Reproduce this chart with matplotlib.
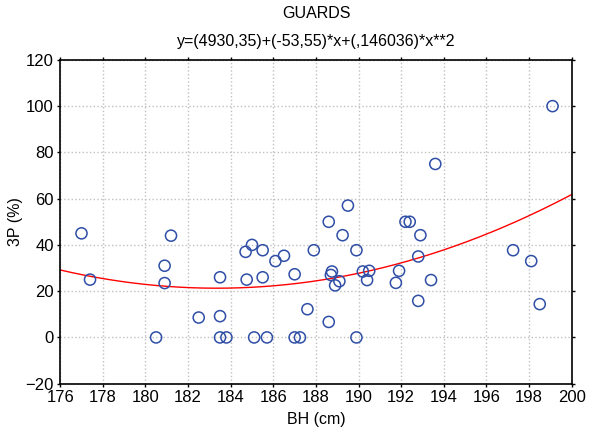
import numpy as np
import matplotlib
matplotlib.use("Agg")
import matplotlib.pyplot as plt

plt.rcParams['font.family'] = ['Liberation Sans', 'DejaVu Sans']

# player data: body height (cm) vs 3-point percentage
bh = [177.0, 177.4, 180.5, 180.9, 180.9, 181.2, 182.5, 183.5, 183.5, 183.8,
      183.5, 184.7, 185.0, 184.75, 185.1, 185.5, 185.5, 185.7, 186.1, 186.5,
      187.0, 187.0, 187.25, 187.6, 187.9, 188.6, 188.7, 188.75, 188.9, 189.1,
      189.25, 189.5, 188.6, 189.9, 189.9, 190.2, 190.4, 190.5, 191.75, 191.9,
      192.2, 192.4, 192.8, 192.8, 192.9, 193.4, 193.6, 197.25, 198.1, 198.5,
      199.1]
p3 = [45, 25, 0, 31, 23.5, 44, 8.6, 9.2, 0, 0,
      26, 37, 40, 25, 0, 37.7, 26, 0, 33, 35.3,
      27.3, 0, 0, 12.2, 37.7, 6.7, 27, 28.5, 22.5, 24.3,
      44.2, 57, 50, 37.7, 0, 28.5, 24.8, 28.8, 23.6, 28.8,
      50, 50, 15.8, 35, 44.2, 24.8, 75, 37.7, 33, 14.4,
      100]

# quadratic fit coefficients from the title
b0, b1, b2 = 4930.35, -53.55, 0.146036

xticks = np.arange(176, 201, 2)
yticks = np.arange(-20, 121, 20)


def main():
    fig = plt.figure(figsize=(5.9, 4.37), dpi=100)
    ax = fig.add_axes([0.102, 0.122, 0.867, 0.741])

    xs = np.linspace(176, 200, 300)
    ax.plot(xs, b0 + b1 * xs + b2 * xs ** 2, color='#ff0000', lw=1.0, zorder=2)
    ax.scatter(bh, p3, s=64, facecolors='none', edgecolors='#2f4ea6',
               linewidths=1.1, zorder=3)

    ax.set_xlim(176, 200)
    ax.set_ylim(-20, 120)
    ax.set_xticks(xticks)
    ax.set_yticks(yticks)
    ax.tick_params(direction='out', length=2.5, width=1.0, labelsize=12,
                   top=True, right=True, labeltop=False, labelright=False)
    ax.tick_params(axis='y', pad=2)
    ax.tick_params(axis='x', pad=2)
    ax.grid(True, ls=':', color='#c0c0c0', lw=1.0)
    ax.set_axisbelow(True)
    for s in ax.spines.values():
        s.set_linewidth(1.2)

    ax.set_xlabel('BH (cm)', fontsize=11.5, labelpad=5)
    ax.set_ylabel('3P (%)', fontsize=11.5, labelpad=2)

    fig.text(0.536, 0.968, 'GUARDS', ha='center', va='center', fontsize=11.5)
    fig.text(0.536, 0.906, 'y=(4930,35)+(-53,55)*x+(,146036)*x**2',
             ha='center', va='center', fontsize=11.5)

    plt.savefig('out.png', dpi=100)


if __name__ == "__main__":
    main()
